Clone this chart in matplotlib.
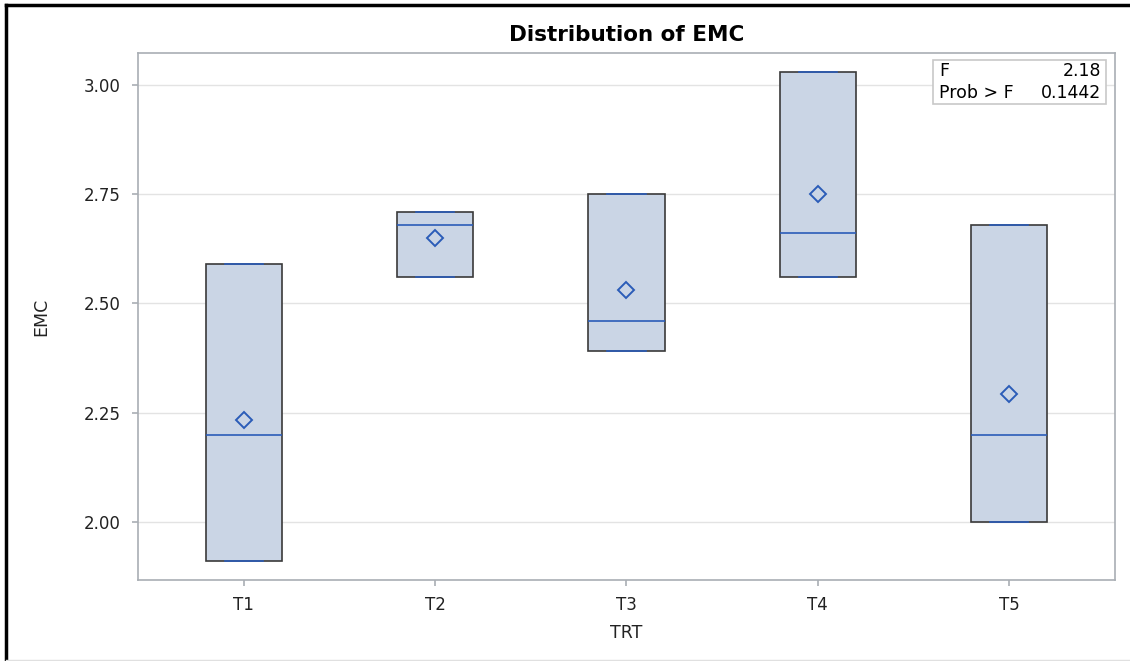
import matplotlib
matplotlib.use("Agg")
import matplotlib.pyplot as plt
from matplotlib.patches import Rectangle

# data
groups = ["T1", "T2", "T3", "T4", "T5"]
mins = [1.91, 2.56, 2.39, 2.56, 2.00]
maxs = [2.59, 2.71, 2.75, 3.03, 2.68]
medians = [2.20, 2.68, 2.46, 2.66, 2.20]
means = [2.233, 2.650, 2.530, 2.750, 2.293]
f_value = "2.18"
prob_f = "0.1442"

plt.rcParams['font.family'] = ['DejaVu Sans']

fill = "#CAD5E5"
blue = "#2B5CB8"
edge = "#3A3A3A"
grey = "#A9AEB4"

fig = plt.figure(figsize=(11.3, 6.61), dpi=100)
ax = fig.add_axes([0.1221, 0.1225, 0.8646, 0.7973])

stats = []
for g, lo, hi, md, mn in zip(groups, mins, maxs, medians, means):
    stats.append(dict(label=g, whislo=lo, q1=lo, med=md, q3=hi, whishi=hi, mean=mn))

ax.bxp(stats, positions=range(len(groups)), widths=0.40, patch_artist=True,
       showmeans=True, showfliers=False, capwidths=0.2,
       boxprops=dict(facecolor=fill, edgecolor=edge, linewidth=1.2),
       medianprops=dict(color=blue, linewidth=1.2),
       whiskerprops=dict(color=blue, linewidth=1.2),
       capprops=dict(color=blue, linewidth=1.2),
       meanprops=dict(marker="D", markersize=8, markerfacecolor="none",
                      markeredgecolor=blue, markeredgewidth=1.4))

ax.set_xlim(-0.553, 4.553)
ax.set_ylim(1.867, 3.073)
ax.set_yticks([2.00, 2.25, 2.50, 2.75, 3.00])
ax.set_yticklabels(["2.00", "2.25", "2.50", "2.75", "3.00"])
ax.set_xticks(range(len(groups)))
ax.set_xticklabels(groups)
ax.yaxis.grid(True, color="#E3E3E3", linewidth=1)
ax.set_axisbelow(True)
for s in ax.spines.values():
    s.set_color(grey)
    s.set_linewidth(1.2)
ax.tick_params(colors=grey, labelcolor="#222222", labelsize=12, length=4.5, width=1.2)
ax.tick_params(axis="x", pad=7)
ax.tick_params(axis="y", pad=8)

ax.set_xlabel("TRT", fontsize=12.5, color="#222222", labelpad=7)
ax.set_ylabel("EMC", fontsize=12.5, color="#222222", labelpad=24)
ax.set_title("Distribution of EMC", fontsize=15.5, fontweight="bold", pad=9)

# inset statistics box
fig.patches.append(Rectangle((933 / 1130, 1 - 104 / 661), 173 / 1130, 44 / 661,
                             transform=fig.transFigure, facecolor="white",
                             edgecolor="#C8C8C8", linewidth=1.2, zorder=5))
fig.text(939 / 1130, 1 - 71 / 661, "F", fontsize=12.5, va="center", zorder=6)
fig.text(1101 / 1130, 1 - 71 / 661, f_value, fontsize=12.5, va="center", ha="right", zorder=6)
fig.text(939 / 1130, 1 - 93 / 661, "Prob > F", fontsize=12.5, va="center", zorder=6)
fig.text(1101 / 1130, 1 - 93 / 661, prob_f, fontsize=12.5, va="center", ha="right", zorder=6)

# outer frame of the screenshot
fig.add_artist(plt.Line2D([6 / 1130, 6 / 1130], [0, 1 - 5 / 661], transform=fig.transFigure,
                          color="black", linewidth=2.5))
fig.add_artist(plt.Line2D([6 / 1130, 1], [1 - 5 / 661, 1 - 5 / 661], transform=fig.transFigure,
                          color="black", linewidth=2.5))
fig.add_artist(plt.Line2D([6 / 1130, 1], [1 / 661, 1 / 661], transform=fig.transFigure,
                          color="#E0E0E0", linewidth=1))

fig.savefig("out.png", dpi=100)
